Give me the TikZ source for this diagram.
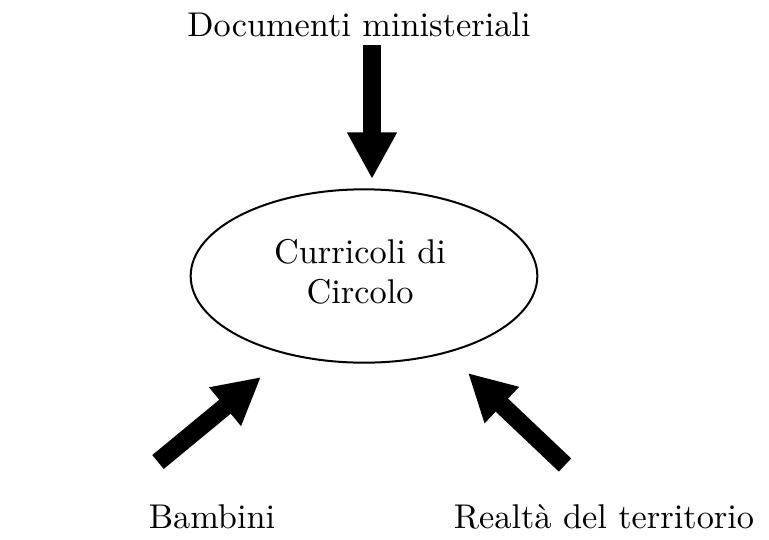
\documentclass[tikz,border=0pt]{standalone}
\usetikzlibrary{arrows.meta,shapes.geometric}

\begin{document}
\begin{tikzpicture}[x=0.3pt,y=-0.3pt,
  label/.style={inner sep=0pt,font=\fontsize{10.3}{12}\selectfont},
  bigarrow/.style={line width=5.4pt,-{Triangle[width=14pt,length=14pt]}}]
\useasboundingbox (0,0) rectangle (769,539);
\node[label] (docs) at (359,25) {Documenti ministeriali};
\node[draw,ellipse,line width=0.6pt,minimum width=104pt,minimum height=52pt,inner sep=0pt] (curr) at (364,276) {};
\node[label,align=center] (currtxt) at (360,272) {Curricoli di\\Circolo};
\node[label] (bamb) at (212,517) {Bambini};
\node[label] (real) at (604,517) {Realtà del territorio};
\coordinate (dtail) at (372,45);
\coordinate (dtip) at (372,179);
\coordinate (btail) at (158,462);
\coordinate (btip) at (261,377);
\coordinate (rtail) at (565,465);
\coordinate (rtip) at (468,373);
\draw[bigarrow] (dtail) -- (dtip);
\draw[bigarrow] (btail) -- (btip);
\draw[bigarrow] (rtail) -- (rtip);
\end{tikzpicture}
\end{document}
